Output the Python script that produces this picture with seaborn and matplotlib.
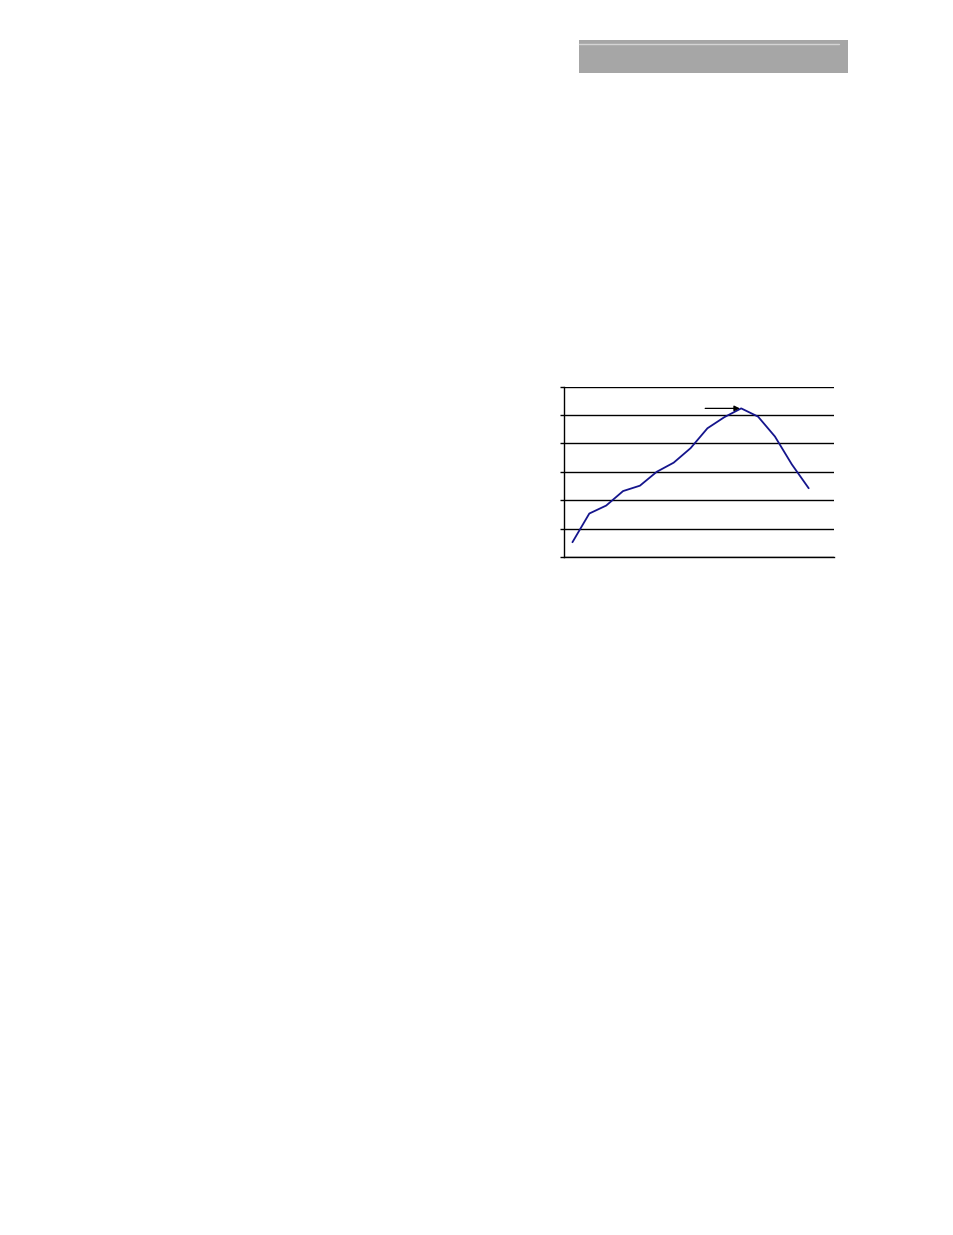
import matplotlib
matplotlib.use("Agg")
import matplotlib.pyplot as plt
import seaborn as sns
import pandas as pd
from matplotlib.patches import Rectangle
from matplotlib.lines import Line2D

# values (y in gridline units, 0..6)
periods = list(range(15))
values = [0.52, 1.53, 1.81, 2.32, 2.51, 3.00, 3.32, 3.83, 4.53, 4.92, 5.23, 4.94, 4.24, 3.26, 2.42]
y_ticks = [0, 1, 2, 3, 4, 5, 6]
peak_idx = 10

df = pd.DataFrame({'period': periods, 'value': values})

sns.set_style('white')
plt.rcParams['font.family'] = ['DejaVu Sans']

fig = plt.figure(figsize=(9.54, 12.35), dpi=100)

# grey header band at the top right
fig.patches.append(Rectangle((579 / 954, 1 - 73 / 1235), 269 / 954, 33 / 1235,
                             transform=fig.transFigure, facecolor='#a6a6a6', edgecolor='none'))
fig.lines.append(Line2D([579 / 954, 839 / 954], [1 - 44.3 / 1235, 1 - 44.3 / 1235],
                        transform=fig.transFigure, color='#d4d4d4', lw=1.0))

ax = fig.add_axes([564 / 954, 1 - 557 / 1235, 270 / 954, 170.5 / 1235])
sns.lineplot(data=df, x='period', y='value', ax=ax, color='#14148c', lw=1.3)

ax.set_xlim(-0.5, 15.5)
ax.set_ylim(0, 6)
ax.set_yticks(y_ticks)
ax.set_yticklabels([])
ax.set_xticks([])
ax.set_xlabel('')
ax.set_ylabel('')
ax.yaxis.grid(True, color='black', lw=1.0)
ax.set_axisbelow(True)
for side in ['top', 'right']:
    ax.spines[side].set_visible(False)
for side in ['left', 'bottom']:
    ax.spines[side].set_color('black')
    ax.spines[side].set_linewidth(1.0)
ax.tick_params(axis='y', left=True, length=3, width=1.0, color='black', direction='out')

ax.annotate('', xy=(periods[peak_idx], values[peak_idx]), xytext=(-36, 0),
            textcoords='offset pixels',
            arrowprops=dict(arrowstyle='-|>', color='black', lw=0.9,
                            mutation_scale=8, shrinkA=0, shrinkB=1))

fig.savefig('out.png', dpi=100)
